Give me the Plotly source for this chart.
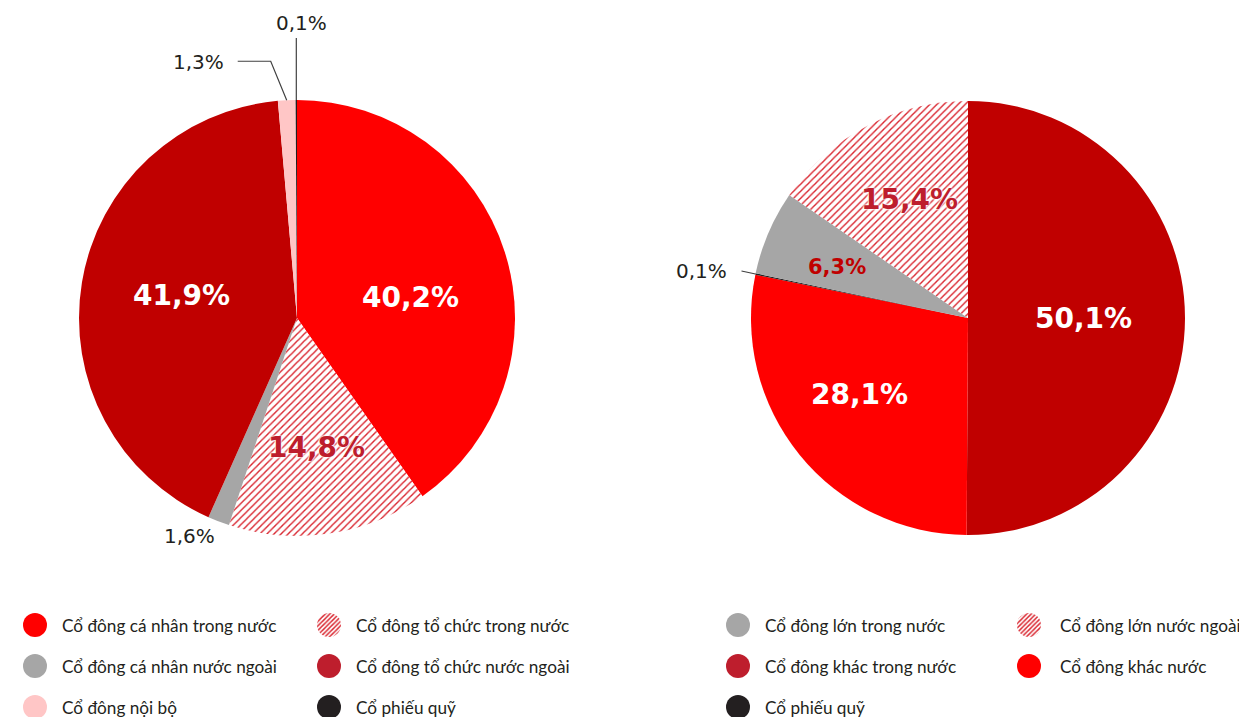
import numpy as np
import plotly.graph_objects as go

W, H = 1247, 717
OFF = 8  # page body margin: screen pixel = figure pixel + OFF

# ---------------- data ----------------
left_labels = ["Cổ đông cá nhân trong nước", "Cổ đông tổ chức trong nước", "Cổ đông cá nhân nước ngoài",
               "Cổ đông tổ chức nước ngoài", "Cổ đông nội bộ", "Cổ phiếu quỹ"]
left_values = [40.2, 14.8, 1.6, 41.9, 1.3, 0.1]

right_labels = ["Cổ đông khác trong nước", "Cổ đông khác nước", "Cổ phiếu quỹ",
                "Cổ đông lớn trong nước", "Cổ đông lớn nước ngoài"]
right_values = [50.1, 28.1, 0.1, 6.3, 15.4]

legend_left = ["Cổ đông cá nhân trong nước", "Cổ đông tổ chức trong nước",
               "Cổ đông cá nhân nước ngoài", "Cổ đông tổ chức nước ngoài",
               "Cổ đông nội bộ", "Cổ phiếu quỹ"]
legend_right = ["Cổ đông lớn trong nước", "Cổ đông lớn nước ngoài",
                "Cổ đông khác trong nước", "Cổ đông khác nước",
                "Cổ phiếu quỹ"]

# ---------------- style ----------------
RED, DRED, GREY, PINK, BLACK, LEG_DRED = "#FF0000", "#C00000", "#A6A6A6", "#FFC6C6", "#231F20", "#BE1E2D"
HATCH = "#D9232D"
FONT = "Lato, 'Noto Sans', sans-serif"
PFONT = "'DejaVu Sans', Lato, sans-serif"

left_colors = [RED, "white", GREY, DRED, PINK, BLACK]
left_shapes = ["", "/", "", "", "", ""]
right_colors = [DRED, RED, BLACK, GREY, "white"]
right_shapes = ["", "", "", "", "/"]

left_geo = dict(cx=297, cy=318, r=218)
right_geo = dict(cx=968, cy=318, r=217)

# label style per slice: ("in", kind, radius fraction, angle nudge deg)
#                     or ("out", text offset, leader offsets, xanchor)
left_lab = [("in", "white", 0.53, 7.5), ("in", "red", 0.60, 0), ("out", (-29, 15), [], "center"),
            ("in", "white", 0.54, 1.5), ("out", (-61, -38), [(-16, -39), (-49, -39)], "right"),
            ("out", (5, -77), [(0, -62)], "center")]
right_lab = [("in", "white", 0.53, 0), ("in", "white", 0.61, 4), ("out", (-27, -3), [(-14, -3)], "right"),
             ("in", "small", 0.65, -2), ("in", "red", 0.61, 1.5)]

fmt = lambda v: f"{v:.1f}".replace(".", ",") + "%"

fig = go.Figure()


def dom(cx, cy, r):
    fx, fy = cx - OFF, cy - OFF
    return dict(x=[(fx - r) / W, (fx + r) / W], y=[(H - fy - r) / H, (H - fy + r) / H])


def add_pie(values, labels, colors, shapes, geo, labstyle):
    cx, cy, r = geo["cx"], geo["cy"], geo["r"]
    fig.add_trace(go.Pie(
        values=values, labels=labels, sort=False, direction="clockwise", rotation=0,
        textinfo="none", hoverinfo="label+percent", showlegend=False,
        marker=dict(colors=colors, line=dict(width=0),
                    pattern=dict(shape=shapes, fgcolor=HATCH, bgcolor="white",
                                 size=5, solidity=0.28, fillmode="replace")),
        domain=dom(cx, cy, r),
    ))
    vals = np.array(values, dtype=float)
    cum = np.cumsum(vals) - vals / 2
    mid = cum / vals.sum() * 360
    for v, m, st in zip(values, mid, labstyle):
        if st[0] == "in":
            kind, f, nudge = st[1], st[2], st[3]
            a = np.deg2rad(m + nudge)
            x, y = cx + f * r * np.sin(a), cy - f * r * np.cos(a)
            if kind == "white":
                font = dict(family=PFONT, size=28, color="white", weight="bold")
            elif kind == "red":
                font = dict(family=PFONT, size=28, color=LEG_DRED, weight="bold",
                            shadow="0 0 3px #fff, 0 0 3px #fff, 0 0 2px #fff")
            else:
                font = dict(family=PFONT, size=21, color=DRED, weight="bold")
            fig.add_annotation(x=x, y=y, xref="x", yref="y", text=fmt(v), showarrow=False,
                               font=font, xanchor="center", yanchor="middle")
        else:
            a = np.deg2rad(m)
            (tdx, tdy), leader, xa = st[1], st[2], st[3]
            ex, ey = cx + r * np.sin(a), cy - r * np.cos(a)
            if leader:
                pts = [(ex, ey)] + [(ex + dx, ey + dy) for dx, dy in leader]
                path = "M " + " L ".join(f"{px:.2f},{py:.2f}" for px, py in pts)
                fig.add_shape(type="path", path=path, xref="x", yref="y",
                              line=dict(color="#404040", width=1.2), layer="above")
            fig.add_annotation(x=ex + tdx, y=ey + tdy, xref="x", yref="y", text=fmt(v),
                               showarrow=False, xanchor=xa, yanchor="middle",
                               font=dict(family=PFONT, size=20, color=BLACK))


add_pie(left_values, left_labels, left_colors, left_shapes, left_geo, left_lab)
add_pie(right_values, right_labels, right_colors, right_shapes, right_geo, right_lab)

# ---------------- legends ----------------
leg_sets = [
    (legend_left, [RED, None, GREY, LEG_DRED, PINK, BLACK], (35, 329), (60, 354)),
    (legend_right, [GREY, None, LEG_DRED, RED, BLACK], (738, 1029), (763, 1058)),
]
row_y = [625, 666, 707]
for names, cols, icon_x, text_x in leg_sets:
    xs, ys, cs = [], [], []
    for i, (nm, c) in enumerate(zip(names, cols)):
        col, row = i % 2, i // 2
        ix, iy = icon_x[col], row_y[row]
        if c is None:
            rr = 12
            fig.add_trace(go.Pie(values=[1], labels=[nm], sort=False, textinfo="none",
                                 hoverinfo="skip", showlegend=False,
                                 marker=dict(colors=["white"], line=dict(width=0),
                                             pattern=dict(shape="/", fgcolor=HATCH, bgcolor="white",
                                                          size=3.2, solidity=0.45, fillmode="replace")),
                                 domain=dom(ix, iy, rr)))
        else:
            xs.append(ix); ys.append(iy); cs.append(c)
        fig.add_annotation(x=text_x[col], y=iy, xref="x", yref="y", text=nm, showarrow=False,
                           xanchor="left", yanchor="middle",
                           font=dict(family=FONT, size=17.2, color=BLACK))
    fig.add_trace(go.Scatter(x=xs, y=ys, mode="markers", cliponaxis=False, showlegend=False,
                             hoverinfo="skip",
                             marker=dict(size=24, color=cs, line=dict(width=0))))

fig.update_xaxes(range=[OFF, W + OFF], visible=False, fixedrange=True, domain=[0, 1])
fig.update_yaxes(range=[H + OFF, OFF], visible=False, fixedrange=True, domain=[0, 1])
fig.update_layout(width=W, height=H, margin=dict(l=0, r=0, t=0, b=0),
                  paper_bgcolor="white", plot_bgcolor="white", showlegend=False)

fig.write_html("out.html")
